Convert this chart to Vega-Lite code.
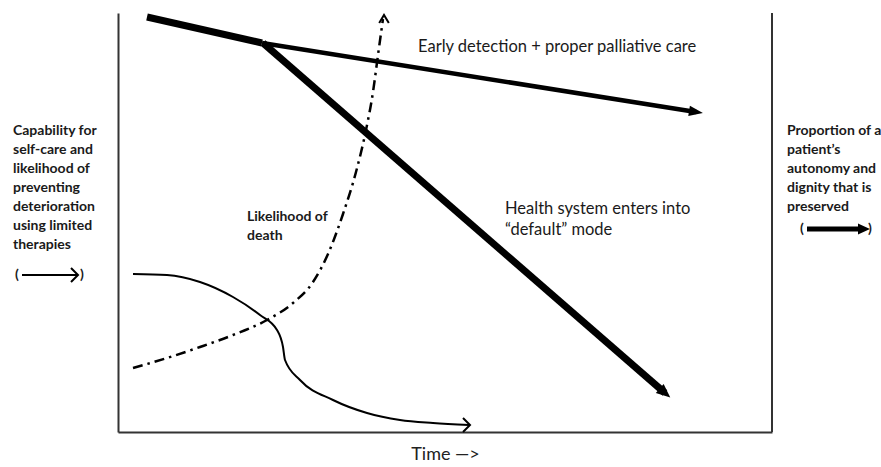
{
  "$schema": "https://vega.github.io/schema/vega-lite/v6.json",
  "width": 654,
  "height": 419,
  "autosize": {"type": "none"},
  "padding": {"left": 118, "top": 13, "right": 109, "bottom": 35},
  "background": "white",
  "config": {"view": {"stroke": null}},
  "datasets": {
    "frame": [{"x": 654, "y": 0, "y2": 419}],
    "early1": [{"x": 29, "y": 415}, {"x": 144, "y": 389}],
    "early2": [{"x": 144, "y": 389}, {"x": 578, "y": 320}],
    "deflt": [{"x": 145, "y": 389}, {"x": 547, "y": 39}],
    "head1": [{"x": 578, "y": 320}],
    "head2": [{"x": 547, "y": 39}],
    "death": [
      {"x": 15, "y": 64}, {"x": 49, "y": 74}, {"x": 82, "y": 85}, {"x": 115, "y": 97},
      {"x": 149, "y": 112}, {"x": 175, "y": 129}, {"x": 195, "y": 150}, {"x": 210, "y": 178},
      {"x": 225, "y": 218}, {"x": 238, "y": 260}, {"x": 248, "y": 302}, {"x": 255, "y": 340},
      {"x": 260, "y": 377}, {"x": 265, "y": 413}
    ],
    "deathHead": [{"x": 266, "y": 417}],
    "care": [
      {"x": 15, "y": 158}, {"x": 49, "y": 157}, {"x": 82, "y": 150}, {"x": 115, "y": 135},
      {"x": 142, "y": 117}, {"x": 159, "y": 102}, {"x": 165, "y": 85}, {"x": 167, "y": 72},
      {"x": 182, "y": 52}, {"x": 215, "y": 32}, {"x": 249, "y": 19}, {"x": 282, "y": 12},
      {"x": 315, "y": 9}, {"x": 351, "y": 7}
    ],
    "chevrons": [{"x": 352, "y": 7}, {"x": -40, "y": 157}],
    "leftArrow": [{"x": -96, "x2": -41, "y": 157}],
    "rightArrow": [{"x": 689, "x2": 742, "y": 203}],
    "rightHead": [{"x": 746, "y": 203}],
    "notes": [
      {"x": 300, "y": 385, "t": "Early detection + proper palliative care"},
      {"x": 387, "y": 223, "t": "Health system enters into"},
      {"x": 387, "y": 202, "t": "“default” mode"}
    ],
    "labels": [
      {"x": 129, "y": 215, "t": "Likelihood of"},
      {"x": 129, "y": 196, "t": "death"},
      {"x": -105, "y": 301, "t": "Capability for"},
      {"x": -105, "y": 282, "t": "self-care and"},
      {"x": -105, "y": 263, "t": "likelihood of"},
      {"x": -105, "y": 244, "t": "preventing"},
      {"x": -105, "y": 225, "t": "deterioration"},
      {"x": -105, "y": 206, "t": "using limited"},
      {"x": -105, "y": 187, "t": "therapies"},
      {"x": -103, "y": 157, "t": "("},
      {"x": -38, "y": 157, "t": ")"},
      {"x": 669, "y": 301, "t": "Proportion of a"},
      {"x": 669, "y": 282, "t": "patient’s"},
      {"x": 669, "y": 263, "t": "autonomy and"},
      {"x": 669, "y": 244, "t": "dignity that is"},
      {"x": 669, "y": 225, "t": "preserved"},
      {"x": 682, "y": 203, "t": "("},
      {"x": 750, "y": 203, "t": ")"}
    ]
  },
  "layer": [
    {
      "data": {"name": "frame"},
      "mark": {"type": "rule", "color": "#333", "strokeWidth": 2},
      "encoding": {
        "x": {"field": "x", "type": "quantitative",
          "scale": {"domain": [0, 654], "nice": false, "zero": false},
          "axis": {"domain": true, "domainColor": "#333", "domainWidth": 2, "ticks": false, "labels": false, "grid": false,
            "title": "Time —>", "titleFont": "Lato", "titleFontSize": 18, "titleFontWeight": "normal", "titleColor": "#222", "titlePadding": 13}},
        "y": {"field": "y", "type": "quantitative",
          "scale": {"domain": [0, 419], "nice": false, "zero": false},
          "axis": {"domain": true, "domainColor": "#333", "domainWidth": 2, "ticks": false, "labels": false, "grid": false, "title": null}},
        "y2": {"field": "y2"}
      }
    },
    {
      "data": {"name": "early1"},
      "mark": {"type": "line", "color": "black", "strokeWidth": 7, "strokeCap": "butt"},
      "encoding": {"x": {"field": "x", "type": "quantitative"}, "y": {"field": "y", "type": "quantitative"}}
    },
    {
      "data": {"name": "early2"},
      "mark": {"type": "line", "color": "black", "strokeWidth": 4.5},
      "encoding": {"x": {"field": "x", "type": "quantitative"}, "y": {"field": "y", "type": "quantitative"}}
    },
    {
      "data": {"name": "deflt"},
      "mark": {"type": "line", "color": "black", "strokeWidth": 7},
      "encoding": {"x": {"field": "x", "type": "quantitative"}, "y": {"field": "y", "type": "quantitative"}}
    },
    {
      "data": {"name": "head1"},
      "mark": {"type": "point", "shape": "M-1,-0.75L1,0L-1,0.75Z", "filled": true, "color": "black", "opacity": 1, "size": 196, "angle": 9},
      "encoding": {"x": {"field": "x", "type": "quantitative"}, "y": {"field": "y", "type": "quantitative"}}
    },
    {
      "data": {"name": "head2"},
      "mark": {"type": "point", "shape": "M-1,-0.85L1,0L-1,0.85Z", "filled": true, "color": "black", "opacity": 1, "size": 196, "angle": 41},
      "encoding": {"x": {"field": "x", "type": "quantitative"}, "y": {"field": "y", "type": "quantitative"}}
    },
    {
      "data": {"name": "death"},
      "mark": {"type": "line", "color": "black", "strokeWidth": 2.5, "strokeDash": [10, 5, 2.5, 5], "interpolate": "monotone"},
      "encoding": {"x": {"field": "x", "type": "quantitative"}, "y": {"field": "y", "type": "quantitative"}}
    },
    {
      "data": {"name": "deathHead"},
      "mark": {"type": "point", "shape": "M-1,-0.6L0,0L-1,0.6", "filled": false, "color": "black", "opacity": 1, "strokeWidth": 2, "size": 256, "angle": -90},
      "encoding": {"x": {"field": "x", "type": "quantitative"}, "y": {"field": "y", "type": "quantitative"}}
    },
    {
      "data": {"name": "care"},
      "mark": {"type": "line", "color": "black", "strokeWidth": 2, "interpolate": "monotone"},
      "encoding": {"x": {"field": "x", "type": "quantitative"}, "y": {"field": "y", "type": "quantitative"}}
    },
    {
      "data": {"name": "chevrons"},
      "mark": {"type": "point", "shape": "M-1,-1L0,0L-1,1", "filled": false, "color": "black", "opacity": 1, "strokeWidth": 2, "size": 196},
      "encoding": {"x": {"field": "x", "type": "quantitative"}, "y": {"field": "y", "type": "quantitative"}}
    },
    {
      "data": {"name": "leftArrow"},
      "mark": {"type": "rule", "color": "black", "strokeWidth": 1.8},
      "encoding": {"x": {"field": "x", "type": "quantitative"}, "x2": {"field": "x2"}, "y": {"field": "y", "type": "quantitative"}}
    },
    {
      "data": {"name": "rightArrow"},
      "mark": {"type": "rule", "color": "black", "strokeWidth": 5},
      "encoding": {"x": {"field": "x", "type": "quantitative"}, "x2": {"field": "x2"}, "y": {"field": "y", "type": "quantitative"}}
    },
    {
      "data": {"name": "rightHead"},
      "mark": {"type": "point", "shape": "M-1,-0.9L1,0L-1,0.9Z", "filled": true, "color": "black", "opacity": 1, "size": 144},
      "encoding": {"x": {"field": "x", "type": "quantitative"}, "y": {"field": "y", "type": "quantitative"}}
    },
    {
      "data": {"name": "notes"},
      "mark": {"type": "text", "align": "left", "baseline": "middle", "font": "Lato", "fontSize": 16.5, "color": "#1a1a1a"},
      "encoding": {"x": {"field": "x", "type": "quantitative"}, "y": {"field": "y", "type": "quantitative"}, "text": {"field": "t"}}
    },
    {
      "data": {"name": "labels"},
      "mark": {"type": "text", "align": "left", "baseline": "middle", "font": "Lato", "fontSize": 14, "fontWeight": "bold", "color": "#1a1a1a"},
      "encoding": {"x": {"field": "x", "type": "quantitative"}, "y": {"field": "y", "type": "quantitative"}, "text": {"field": "t"}}
    }
  ]
}
